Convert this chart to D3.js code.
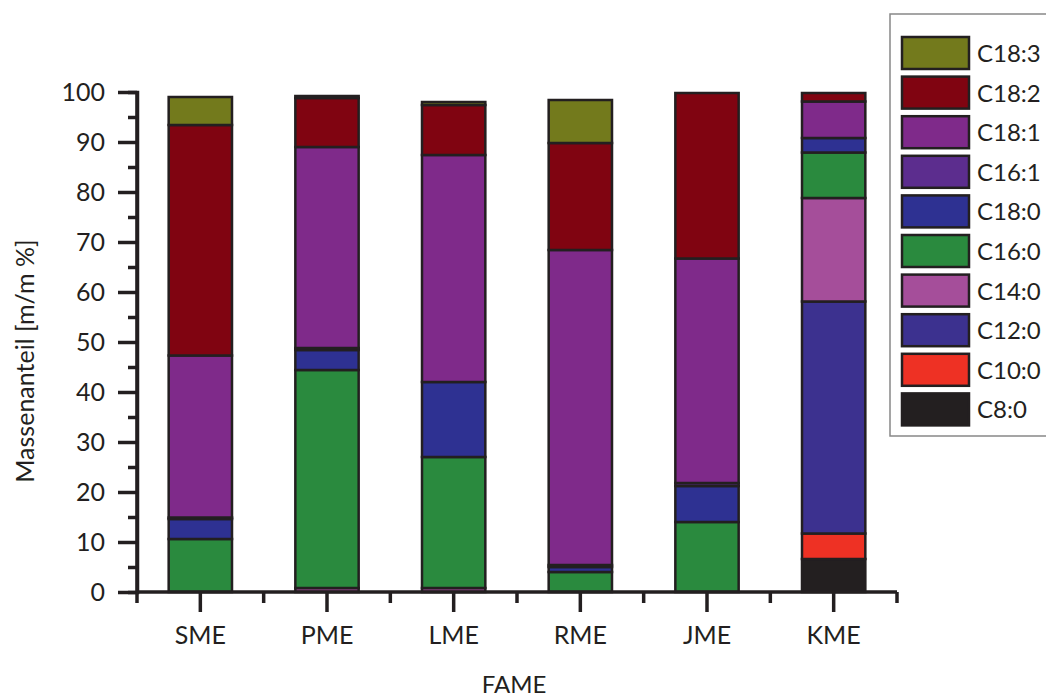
<!DOCTYPE html>
<html>
<head>
<meta charset="utf-8">
<script src="https://cdn.jsdelivr.net/npm/d3@7"></script>
<style>
  body { margin: 0; background: #fff; }
  svg text { font-family: Lato, "Open Sans", sans-serif; fill: #231f20; }
</style>
</head>
<body>
<div id="chart"></div>
<script>
const fame = ['SME', 'PME', 'LME', 'RME', 'JME', 'KME'];
const acids = ['C8:0', 'C10:0', 'C12:0', 'C14:0', 'C16:0', 'C18:0', 'C16:1', 'C18:1', 'C18:2', 'C18:3'];

const c8_0  = [0, 0, 0, 0, 0, 6.6];
const c10_0 = [0, 0, 0, 0, 0, 5.1];
const c12_0 = [0, 0, 0, 0, 0, 46.4];
const c14_0 = [0, 0.8, 0.8, 0, 0, 20.7];
const c16_0 = [10.6, 43.6, 26.2, 4.0, 14.0, 9.1];
const c18_0 = [4.0, 4.0, 15.0, 1.0, 7.2, 2.9];
const c16_1 = [0.3, 0.4, 0, 0.4, 0.6, 0];
const c18_1 = [32.4, 40.2, 45.4, 63.0, 44.9, 7.3];
const c18_2 = [46.1, 9.8, 10.0, 21.4, 33.1, 1.7];
const c18_3 = [5.6, 0.4, 0.6, 8.6, 0, 0];

const yTicks = [0, 10, 20, 30, 40, 50, 60, 70, 80, 90, 100];

const series = [c8_0, c10_0, c12_0, c14_0, c16_0, c18_0, c16_1, c18_1, c18_2, c18_3];

const colors = {
  'C8:0': '#231f20',
  'C10:0': '#ee3124',
  'C12:0': '#3c318f',
  'C14:0': '#a54e9a',
  'C16:0': '#2a8a3e',
  'C18:0': '#2e3192',
  'C16:1': '#5c2d8e',
  'C18:1': '#7f2a8a',
  'C18:2': '#800411',
  'C18:3': '#737a1c'
};

// build rows for d3.stack
const rows = fame.map((f, i) => {
  const r = { fame: f };
  acids.forEach((a, j) => { r[a] = series[j][i]; });
  return r;
});

const W = 1046, H = 698;
const pLeft = 137, pRight = 897, pTop = 92, pBottom = 592;

const svg = d3.select('#chart').append('svg')
  .attr('width', W)
  .attr('height', H);

const x = d3.scaleBand().domain(fame).range([pLeft, pRight]).paddingInner(0.5).paddingOuter(0.25);
const y = d3.scaleLinear().domain([0, 100]).range([pBottom, pTop]);

const stacked = d3.stack().keys(acids)(rows);

svg.append('g').selectAll('g')
  .data(stacked)
  .enter().append('g')
  .attr('fill', d => colors[d.key])
  .selectAll('rect')
  .data(d => d.filter(p => p[1] - p[0] > 0))
  .enter().append('rect')
  .attr('x', d => x(d.data.fame))
  .attr('y', d => y(d[1]))
  .attr('width', x.bandwidth())
  .attr('height', d => y(d[0]) - y(d[1]))
  .attr('stroke', '#231f20')
  .attr('stroke-width', 2.5);

// y axis
const yAxis = svg.append('g')
  .attr('transform', `translate(${pLeft},0)`)
  .call(d3.axisLeft(y).tickValues(yTicks).tickSize(19).tickPadding(13));
yAxis.append('g')
  .call(d3.axisLeft(y).tickValues(d3.range(5, 100, 10)).tickSize(9).tickFormat(''));

// x axis
const step = x.step();
const minorX = d3.range(0, fame.length + 1).map(i => pLeft + i * step);
const xAxis = svg.append('g')
  .attr('transform', `translate(0,${pBottom})`)
  .call(d3.axisBottom(x).tickSize(20).tickPadding(14));
xAxis.selectAll('.minor')
  .data(minorX)
  .enter().append('line')
  .attr('class', 'minor')
  .attr('x1', d => d).attr('x2', d => d)
  .attr('y1', 0).attr('y2', 11);

svg.selectAll('.domain').attr('stroke', '#231f20').attr('stroke-width', 3.5);
svg.selectAll('.tick line, .minor').attr('stroke', '#231f20').attr('stroke-width', 3.5);
svg.selectAll('.tick text').style('font-size', '25px').attr('fill', '#231f20');
yAxis.select('.domain').attr('d', `M0,${pTop}V${pBottom}`);
xAxis.select('.domain').attr('d', `M${pLeft},0H${pRight}`);

// axis titles
svg.append('text')
  .attr('x', (pLeft + pRight) / 2 - 3)
  .attr('y', 693)
  .attr('text-anchor', 'middle')
  .style('font-size', '24px')
  .text('FAME');

svg.append('text')
  .attr('transform', `translate(34,361) rotate(-90)`)
  .attr('text-anchor', 'middle')
  .style('font-size', '25px')
  .text('Massenanteil [m/m %]');

// legend
const legend = svg.append('g');
legend.append('path')
  .attr('d', 'M1046,14H890V436H1046')
  .attr('fill', 'none')
  .attr('stroke', '#888')
  .attr('stroke-width', 1.5);

const legendItems = acids.slice().reverse();
const ly = d3.scalePoint().domain(legendItems).range([37, 37 + 9 * 39.6]);

const li = legend.selectAll('.li')
  .data(legendItems)
  .enter().append('g')
  .attr('class', 'li')
  .attr('transform', d => `translate(902,${ly(d)})`);
li.append('rect')
  .attr('width', 67)
  .attr('height', 32)
  .attr('fill', d => colors[d])
  .attr('stroke', '#231f20')
  .attr('stroke-width', 2.5);
li.append('text')
  .attr('x', 75)
  .attr('y', 25)
  .style('font-size', '24px')
  .text(d => d);
</script>
</body>
</html>
